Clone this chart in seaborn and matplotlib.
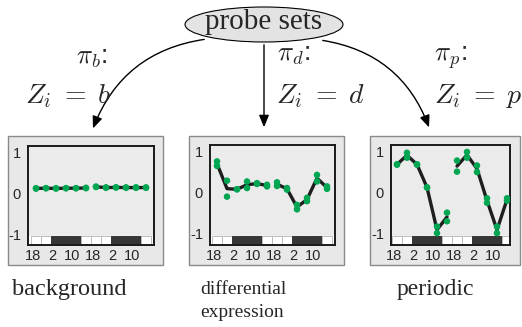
import numpy as np
import pandas as pd
import matplotlib
matplotlib.use("Agg")
import matplotlib.pyplot as plt
import seaborn as sns
from matplotlib.patches import Ellipse, Rectangle, FancyArrowPatch

# time points (two days, sampled every 4 h) and two replicates per point
times = list(range(12))
day = [0] * 6 + [1] * 6
tick_pos = [-0.3, 1.6, 3.6, 5.7, 7.6, 9.6]
tick_labels = ["18", "2", "10", "18", "2", "10"]
light = [1, 1, 0, 0, 0, 1, 1, 1, 0, 0, 0, 1]

bg_rep1 = [0.13, 0.13, 0.13, 0.13, 0.13, 0.14, 0.17, 0.15, 0.15, 0.15, 0.15, 0.15]
bg_rep2 = [0.12, 0.13, 0.12, 0.13, 0.13, 0.13, 0.16, 0.14, 0.15, 0.14, 0.14, 0.14]

de_rep1 = [0.77, 0.30, 0.09, 0.28, 0.24, 0.20, 0.26, 0.12, -0.29, -0.12, 0.44, 0.16]
de_rep2 = [0.66, -0.09, 0.09, 0.12, 0.22, 0.16, 0.17, 0.08, -0.40, -0.20, 0.28, 0.10]

per_rep1 = [0.70, 0.98, 0.70, 0.14, -0.82, -0.48, 0.79, 1.00, 0.67, -0.13, -0.82, -0.13]
per_rep2 = [0.69, 0.86, 0.69, 0.13, -0.98, -0.69, 0.52, 0.86, 0.51, -0.24, -0.98, -0.19]

panel_names = ["background", "differential\nexpression", "periodic"]
class_labels = [r"$\pi_b$:", r"$\pi_d$:", r"$\pi_p$:"]
eq_labels = [r"$Z_i\;=\;b$", r"$Z_i\;=\;d$", r"$Z_i\;=\;p$"]

sns.set_style("white")
plt.rcParams["font.family"] = ["Liberation Sans", "DejaVu Sans"]
plt.rcParams["mathtext.fontset"] = "cm"

W, H = 522, 327
fig = plt.figure(figsize=(W / 100, H / 100), dpi=100)

# full-figure axes in pixel units for the diagram part
bg = fig.add_axes([0, 0, 1, 1])
bg.set_xlim(0, W)
bg.set_ylim(H, 0)
bg.axis("off")

ell = Ellipse((264, 24.5), 158, 35, facecolor="#e3e3e3", edgecolor="black", lw=0.8)
bg.add_patch(ell)
bg.text(264, 22, "probe sets", ha="center", va="center", fontsize=21,
        family="Liberation Serif")

arrow_kw = dict(arrowstyle="-|>,head_length=0.6,head_width=0.25", color="black",
                lw=1.0, mutation_scale=12)
bg.add_patch(FancyArrowPatch((207, 39), (92, 131), connectionstyle="arc3,rad=0.3", **arrow_kw))
bg.add_patch(FancyArrowPatch((264, 42), (264, 130), **arrow_kw))
bg.add_patch(FancyArrowPatch((320, 40), (430, 130), connectionstyle="arc3,rad=-0.3", **arrow_kw))

bg.text(108, 64, class_labels[0], ha="right", va="baseline", fontsize=19)
bg.text(111, 103, eq_labels[0], ha="right", va="baseline", fontsize=20)
bg.text(277, 61, class_labels[1], ha="left", va="baseline", fontsize=19)
bg.text(276, 103, eq_labels[1], ha="left", va="baseline", fontsize=20)
bg.text(434, 61, class_labels[2], ha="left", va="baseline", fontsize=19)
bg.text(434, 103, eq_labels[2], ha="left", va="baseline", fontsize=20)

# outer grey boxes and inner axes (pixel boxes)
outer = [(8, 136, 163, 265), (189, 136, 344, 265), (370, 136, 520, 265)]
inner = [(28, 146, 154, 245), (210, 145, 335, 245), (391, 145, 510, 245)]
xlims = [(-0.8, 11.8), (-0.7, 11.8), (-0.6, 11.3)]
name_pos = [(12, 295, 17.5), (200, 294, 14), (397, 295, 17)]

for (l, t, r, b) in outer:
    bg.add_patch(Rectangle((l, t), r - l, b - t, facecolor="#e8e8e8",
                           edgecolor="#8a8a8a", lw=1.0))

reps = [(bg_rep1, bg_rep2), (de_rep1, de_rep2), (per_rep1, per_rep2)]
ylo, band_top = -1.27, -1.06

for k, (r1, r2) in enumerate(reps):
    l, t, r, b = inner[k]
    ax = fig.add_axes([l / W, 1 - b / H, (r - l) / W, (b - t) / H])
    ax.set_facecolor("#ebebeb")
    df = pd.DataFrame({"time": times * 2, "value": r1 + r2, "day": day * 2})

    # light/dark band
    ax.axhspan(ylo, band_top, color="white", zorder=1)
    cols = ["white" if v else "#363636" for v in light]
    edges = ["#bdbdbd" if v else "#363636" for v in light]
    ax.bar(times, band_top - ylo, bottom=ylo, width=1, color=cols,
           edgecolor=edges, lw=0.7, zorder=2)

    for d in [0, 1]:
        sns.lineplot(data=df[df.day == d], x="time", y="value", estimator="mean",
                     errorbar=None, color="#1e1e1e", lw=2.4, ax=ax, zorder=3)
    sns.scatterplot(data=df, x="time", y="value", color="#00a651", s=22,
                    edgecolor="none", ax=ax, zorder=4)

    ax.set_xlim(*xlims[k])
    ax.set_ylim(ylo, 1.17)
    ax.set_xticks(tick_pos)
    ax.set_xticklabels(tick_labels)
    ax.set_yticks([-1, 0, 1])
    ax.set_yticklabels(["-1", "0", "1"])
    ax.tick_params(axis="x", length=0, pad=3, labelsize=10.5)
    ax.tick_params(axis="y", direction="in", length=3, width=0.8, pad=5, labelsize=10.5)
    ax.set_xlabel("")
    ax.set_ylabel("")
    for s in ax.spines.values():
        s.set_color("#1a1a1a")
        s.set_linewidth(1.4)

    x0, y0, fs = name_pos[k]
    for j, line in enumerate(panel_names[k].split("\n")):
        bg.text(x0, y0 + 23 * j, line, ha="left", va="baseline", fontsize=fs,
                family="Liberation Serif")

fig.savefig("out.png", dpi=100)
